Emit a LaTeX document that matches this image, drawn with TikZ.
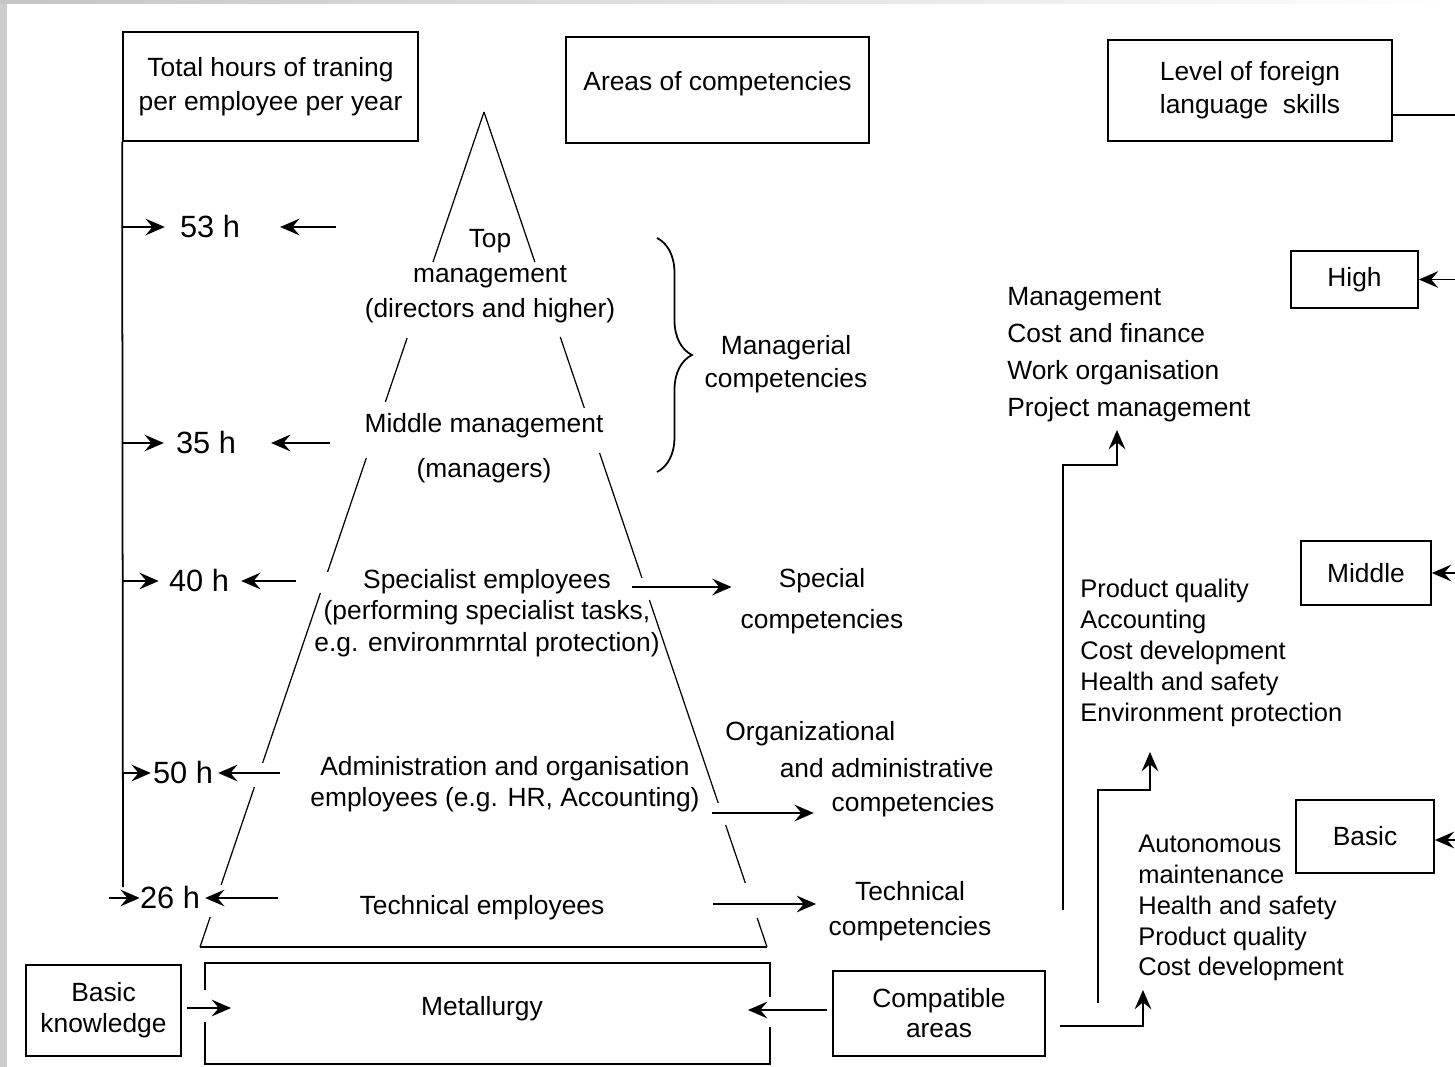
\documentclass[tikz,border=0pt]{standalone}
\usepackage{fontspec}
\setmainfont{Liberation Sans}
\usetikzlibrary{arrows.meta,positioning,calc,decorations.pathreplacing}

\newcommand{\fsz}[2]{\fontsize{#1}{#2}\selectfont}
\newcommand{\fs}[1]{\fsz{15}{#1}}

\begin{document}
\begin{tikzpicture}[
  x=0.02cm, y=-0.02cm,
  font=\fs{18},
  box/.style={draw, line width=1pt, inner sep=0pt, align=center},
  txt/.style={inner sep=0pt, align=center},
  lst/.style={inner sep=0pt, align=left, anchor=west},
  hrs/.style={inner sep=0pt, font=\fsz{17.5}{20}},
  arr/.style={-{Stealth[length=11pt,width=9.5pt,inset=4pt]}, line width=1pt},
  line/.style={line width=1pt},
  side/.style={line width=0.7pt}
]
\useasboundingbox (0,0) rectangle (1455,1067);
% grey frame of the scan
\fill[gray!40] (0,0) rectangle (7,1067);
\shade[left color=gray!45, right color=white] (0,0) rectangle (1455,4);

% headings
\node[box, minimum width=5.9cm, minimum height=2.18cm, font=\fs{19}] (total) at (270.5,86.5) {Total hours of traning\\per employee per year};
\node[box, minimum width=6.06cm, minimum height=2.12cm, text depth=0.36cm] (areas) at (717.5,90) {Areas of competencies};
\node[box, minimum width=5.68cm, minimum height=2.02cm, font=\fs{19}] (level) at (1250,90.5) {Level of foreign\\language\ \ skills};

% language levels
\node[box, minimum width=2.54cm, minimum height=1.14cm] (high) at (1354.5,279.5) {High};
\node[box, minimum width=2.6cm, minimum height=1.28cm] (middle) at (1366,573) {Middle};
\node[box, minimum width=2.76cm, minimum height=1.46cm] (basic) at (1365,836.5) {Basic};
\coordinate (edge) at (1455,115);
\draw[line] ([yshift=-0.49cm]level.east) -- (edge);
\draw[arr] (high.east -| edge) -- (high.east);
\draw[arr] (middle.east -| edge) -- (middle.east);
\draw[arr] ([yshift=-0.07cm]basic.east -| edge) -- ([yshift=-0.07cm]basic.east);

% hours axis
\coordinate (axisend) at (123,887);
\draw[line] (total.south west) -- (axisend);
\foreach \n/\x/\y/\o/\gl/\s/\gr in {53/210/227/0/8.5/336/22.7, 35/206/443/0/6.8/330/19.8,
    40/199/581/0/5.7/296/6.8, 50/183/773/0/1.1/280/2.8, 26/170/898/-7.4/0/278/2.8}{
  \node[hrs] (h\n) at (\x,\y) {\n\ h};
  \coordinate (r\n) at (\s,\y);
  \draw[arr, shorten >=\gl pt] ([xshift=\o pt]h\n.west -| total.west) -- (h\n.west);
  \draw[arr, shorten >=\gr pt] (r\n) -- (h\n.east);
}

% pyramid
\coordinate (apex) at (484,112);
\coordinate (bl) at (200,947);
\coordinate (br) at (767,947);
\foreach \a/\b in {112/262, 338/402, 458/572, 593/763, 787/885, 917/947}
  \draw[side] ($(apex)!{(\a-112)/835}!(bl)$) -- ($(apex)!{(\b-112)/835}!(bl)$);
\foreach \a/\b in {112/262, 337/408, 453/578, 600/803, 825/883, 918/947}
  \draw[side] ($(apex)!{(\a-112)/835}!(br)$) -- ($(apex)!{(\b-112)/835}!(br)$);
\draw[side] (bl) -- (br);

\node[txt, font=\fs{20}] (top) at (490,276) {Top\\management\\(directors and higher)};
\node[txt, font=\fs{25.5}] (mid) at (484,448) {Middle management\\(managers)};
\node[txt] (spec) at (487,613) {Specialist employees\\(performing specialist tasks,\\e.g. environmrntal protection)};
\node[txt] (adm) at (505,784) {Administration and organisation\\employees (e.g. HR, Accounting)};
\node[txt] (tech) at (482,908) {Technical employees};

% competencies
\coordinate (brtop) at (657,238);
\coordinate (brbot) at (657,472);
\draw[line, decorate, decoration={brace, amplitude=0.7cm}] (brtop) -- (brbot);
\node[txt, font=\fs{19}] (mgrc) at (786,364) {Managerial\\competencies};
\node[txt, font=\fs{23}] (specc) at (822,601) {Special\\competencies};
\node[lst, font=\fs{21}] (orgc) at (725,749.5) {Organizational\\\hspace*{31pt}and administrative};
\node[txt] (admc) at (913,805) {competencies};
\node[txt, font=\fs{20}] (techc) at (910,911) {Technical\\competencies};
\coordinate (sa) at (632,587);
\coordinate (oa) at (712,813);
\coordinate (ta) at (713,904);
\draw[arr, shorten >=5pt] (sa) -- (sa -| specc.west);
\draw[arr, shorten >=10pt] (oa) -- (oa -| admc.west);
\draw[arr, shorten >=7pt] (ta) -- (ta -| techc.west);

% base
\coordinate (mtl) at (205,963);
\coordinate (mtr) at (770,963);
\coordinate (mbl) at (205,1064);
\coordinate (mbr) at (770,1064);
\draw[line] (205,990) -- (mtl) -- (mtr) -- (770,997);
\draw[line] (205,1022) -- (mbl) -- (mbr) -- (770,1027);
\node[txt] (metal) at (482,1009) {Metallurgy};
\node[box, minimum width=3.1cm, minimum height=1.82cm, font=\fs{17.5}] (bknow) at (103.5,1010.5) {Basic\\knowledge};
\node[box, minimum width=4.24cm, minimum height=1.7cm, font=\fs{17}] (compat) at (939,1013.5) {Compatible\\areas};
\coordinate (mleft) at (231,1008);
\coordinate (mright) at (748,1010);
\draw[arr] ([xshift=3pt]bknow.east |- mleft) -- (mleft);
\draw[arr] ([xshift=-3pt]compat.west |- mright) -- (mright);

% areas by language level
\node[lst, font=\fs{21}] (mlist) at (1007,355) {Management\\Cost and finance\\Work organisation\\Project management};
\node[lst, font=\fsz{14.5}{17.6}] (plist) at (1080,653) {Product quality\\Accounting\\Cost development\\Health and safety\\Environment protection};
\node[lst, font=\fsz{14.5}{17.6}] (blist) at (1138,908) {Autonomous\\maintenance\\Health and safety\\Product quality\\Cost development};
\coordinate (m0) at (1063,910);
\coordinate (m1) at (1117,430);
\coordinate (p0) at (1098,1003);
\coordinate (p1) at (1150,752);
\coordinate (b0) at (1060,1026);
\coordinate (b1) at (1143,990);
\draw[arr] (m0) |- ($(m1)+(0,35)$) -- (m1);
\draw[arr] (p0) |- ($(p1)+(0,38)$) -- (p1);
\draw[arr] (b0) -| (b1);
\end{tikzpicture}
\end{document}
